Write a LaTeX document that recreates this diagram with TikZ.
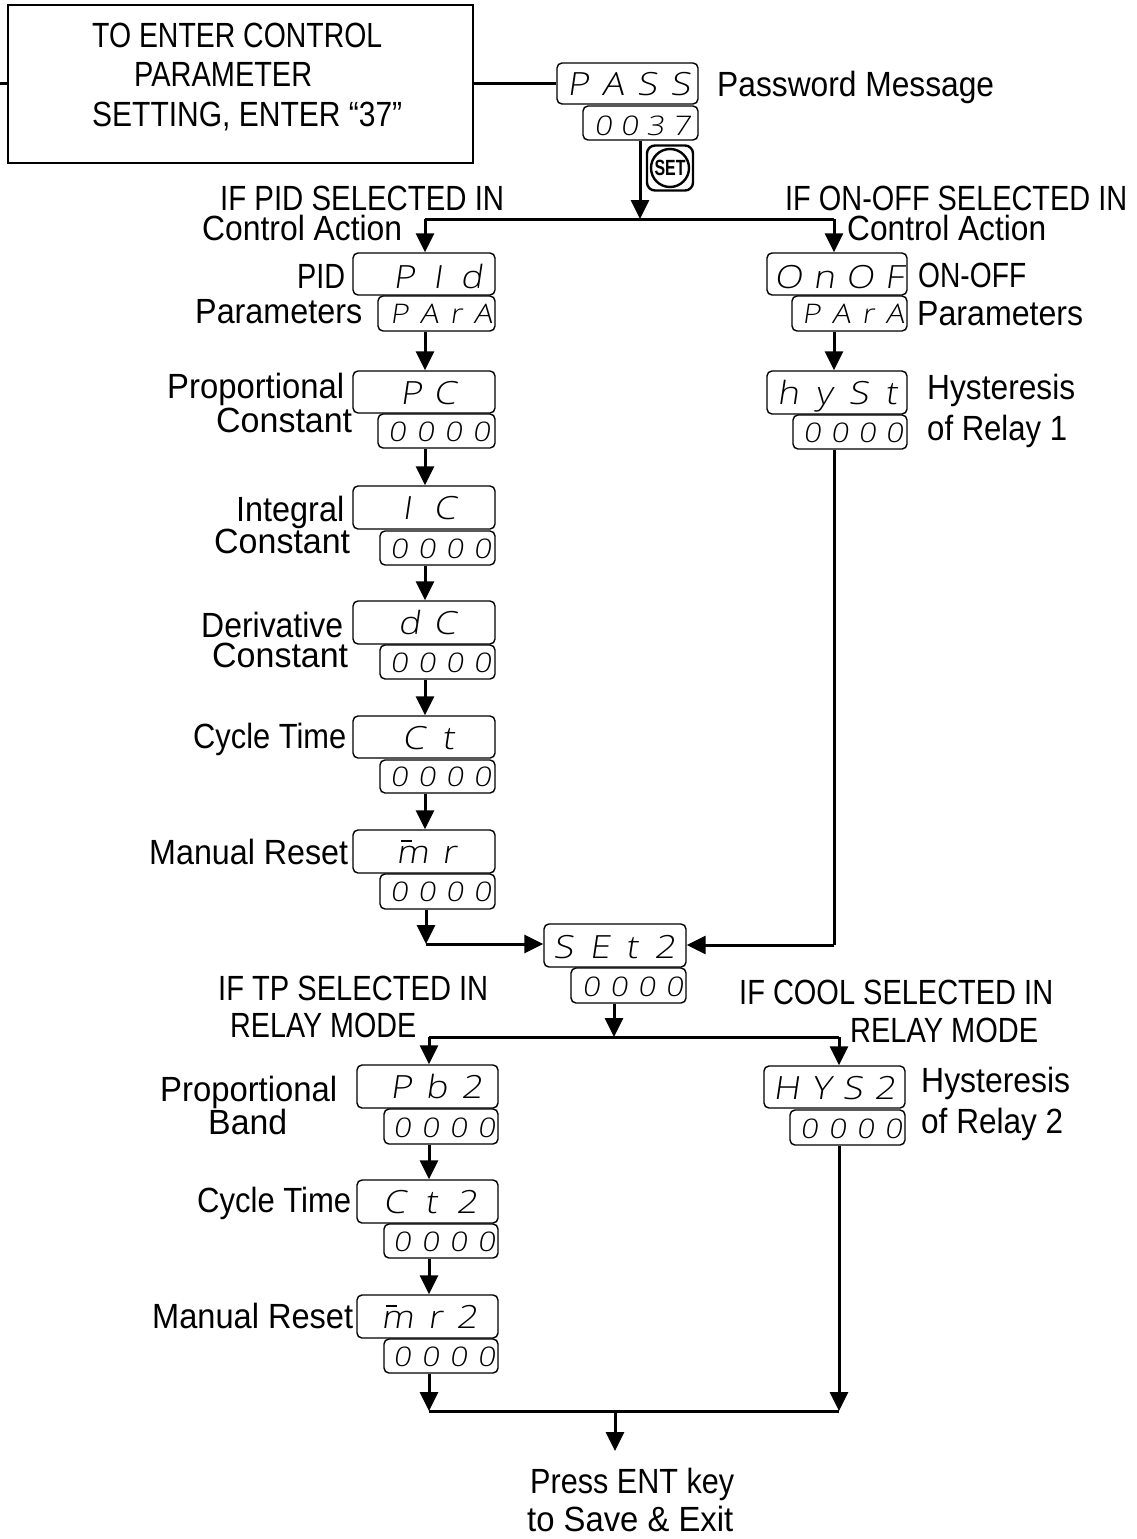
\documentclass[tikz,border=0pt]{standalone}
\usepackage{fontspec}
\setmainfont{Liberation Sans}
\newfontfamily\segf{Open Sans Light}[FakeSlant=0.15,FakeStretch=1.15]
\usetikzlibrary{arrows.meta}
\tikzset{
  x=1pt,y=-1pt,
  dispbox/.style={draw,line width=1.4pt,rounded corners=5pt,inner sep=0pt,fill=white},
  lbl/.style={inner sep=0pt,anchor=base west,font=\fontsize{35}{35}\selectfont},
  segtxt/.style={inner sep=0pt,anchor=base west},
  wire/.style={line width=3pt},
  arr/.style={line width=3pt,-{Triangle[length=19pt,width=18pt]}}
}
\def\segsize{32}
% name, x1, y1, x2, y2, glyph left, glyph right, baseline, text
\newcommand\disp[9]{%
  \def\segsize{32}%
  \node[dispbox,minimum width=#4pt-#2pt,minimum height=#5pt-#3pt] (#1) at ({(#2+#4)/2},{(#3+#5)/2}) {};%
  \dtext{#1}{#6}{#7}{#8}{#9}}
\newcommand\dispv[9]{%
  \def\segsize{27}%
  \node[dispbox,minimum width=#4pt-#2pt,minimum height=#5pt-#3pt] (#1) at ({(#2+#4)/2},{(#3+#5)/2}) {};%
  \dtext{#1}{#6}{#7}{#8}{#9}}
\newcommand\dtext[5]{%
  \pgfmathsetlengthmacro\dw{#3pt-#2pt}%
  \node[segtxt] (#1t) at (#2,#4) {\hbox to \dw{\segf\fontsize{\segsize}{\segsize}\selectfont\spaceskip=0pt plus 1fil #5}};}
\newcommand\lbl[5]{%
  \pgfmathsetlengthmacro\lw{#3pt-#2pt}%
  \node[lbl] (#1) at (#2,#4) {\resizebox{\lw}{\height}{#5}};}
\newcommand\barm{\rlap{\kern5pt\raisebox{21pt}{\rule{11pt}{1.6pt}}}m}
\begin{document}
\begin{tikzpicture}
\useasboundingbox (0,0) rectangle (1136,1539);
\coordinate (colL) at (425,0);
\coordinate (colR) at (834,0);
\coordinate (colC) at (640,0);
\coordinate (colM) at (614,0);
\coordinate (colLt) at (429,0);
\coordinate (colRt) at (839,0);

% title box
\node[draw,line width=1.4pt,minimum width=465pt,minimum height=158pt,inner sep=0pt] (big) at (240.5,84) {};
\lbl{t1}{92}{382}{47}{TO ENTER CONTROL}
\lbl{t2}{134}{312}{86}{PARAMETER}
\lbl{t3}{92}{402}{126}{SETTING, ENTER “37”}

% displays
\disp{pass}{557}{63}{698}{104}{567}{690}{95}{P A S S}
\dispv{passv}{583}{106}{698}{140}{594}{690}{135}{0 0 3 7}

\disp{pid}{353}{253}{495}{295}{393}{482}{288}{P I d}
\dispv{pidv}{378}{296}{495}{331}{390}{492}{323}{P A r A}
\disp{pc}{353}{371}{495}{413}{400}{456}{404}{P C}
\dispv{pcv}{378}{414}{495}{448}{388}{490}{441}{0 0 0 0}
\disp{ic}{353}{486}{495}{529}{402}{456}{519}{I C}
\dispv{icv}{380}{531}{495}{565}{390}{491}{558}{0 0 0 0}
\disp{dc}{353}{601}{495}{644}{398}{456}{634}{d C}
\dispv{dcv}{380}{645}{495}{679}{390}{491}{672}{0 0 0 0}
\disp{ct}{353}{716}{495}{758}{402}{454}{749}{C t}
\dispv{ctv}{380}{760}{495}{793}{390}{491}{786}{0 0 0 0}
\disp{mr}{353}{830}{495}{873}{396}{456}{863}{\barm{} r}
\dispv{mrv}{380}{874}{495}{909}{390}{491}{901}{0 0 0 0}

\disp{onof}{767}{253}{907}{295}{774}{903}{288}{O n O F}
\dispv{onofv}{792}{296}{907}{331}{802}{904}{323}{P A r A}
\disp{hyst}{767}{371}{907}{414}{777}{897}{404}{h y S t}
\dispv{hystv}{793}{415}{907}{449}{803}{903}{442}{0 0 0 0}

\disp{settwo}{544}{924}{686}{967}{553}{675}{958}{S E t 2}
\dispv{settwov}{571}{968}{686}{1003}{582}{683}{996}{0 0 0 0}

\disp{pb}{357}{1065}{498}{1108}{390}{482}{1098}{P b 2}
\dispv{pbv}{384}{1109}{498}{1144}{393}{495}{1137}{0 0 0 0}
\disp{cttwo}{357}{1180}{498}{1223}{383}{477}{1213}{C t 2}
\dispv{cttwov}{384}{1224}{498}{1258}{393}{495}{1251}{0 0 0 0}
\disp{mrtwo}{357}{1295}{498}{1338}{381}{477}{1328}{\barm{} r 2}
\dispv{mrtwov}{384}{1339}{498}{1373}{393}{495}{1366}{0 0 0 0}

\disp{hystwo}{764}{1066}{905}{1108}{773}{895}{1099}{H Y S 2}
\dispv{hystwov}{790}{1110}{905}{1145}{800}{902}{1138}{0 0 0 0}

% SET key
\node[draw,line width=2.4pt,rounded corners=8pt,minimum width=46pt,minimum height=45pt,inner sep=0pt] (setkey) at (670,168) {};
\node[draw,line width=2.4pt,circle,minimum size=38pt,inner sep=0pt,font=\bfseries\fontsize{22}{22}\selectfont] (setcirc) at (670,168) {\resizebox{31pt}{\height}{SET}};

% labels
\lbl{l1}{717}{994}{96}{Password Message}
\lbl{l2}{220}{504}{210}{IF PID SELECTED IN}
\lbl{l3}{202}{402}{240}{Control Action}
\lbl{l4}{785}{1127}{210}{IF ON-OFF SELECTED IN}
\lbl{l5}{847}{1046}{240}{Control Action}
\lbl{l6}{297}{345}{288}{PID}
\lbl{l7}{195}{362}{323}{Parameters}
\lbl{l8}{918}{1026}{287}{ON-OFF}
\lbl{l9}{917}{1083}{325}{Parameters}
\lbl{l10}{167}{344}{398}{Proportional}
\lbl{l11}{216}{352}{432}{Constant}
\lbl{l12}{927}{1075}{399}{Hysteresis}
\lbl{l13}{927}{1067}{440}{of Relay 1}
\lbl{l14}{236}{344}{521}{Integral}
\lbl{l15}{214}{350}{553}{Constant}
\lbl{l16}{201}{343}{637}{Derivative}
\lbl{l17}{212}{348}{667}{Constant}
\lbl{l18}{193}{346}{748}{Cycle Time}
\lbl{l19}{149}{348}{864}{Manual Reset}
\lbl{l20}{218}{488}{1000}{IF TP SELECTED IN}
\lbl{l21}{230}{416}{1037}{RELAY MODE}
\lbl{l22}{739}{1053}{1004}{IF COOL SELECTED IN}
\lbl{l23}{850}{1038}{1042}{RELAY MODE}
\lbl{l24}{160}{337}{1101}{Proportional}
\lbl{l25}{208}{287}{1134}{Band}
\lbl{l26}{921}{1070}{1092}{Hysteresis}
\lbl{l27}{921}{1063}{1133}{of Relay 2}
\lbl{l28}{197}{351}{1212}{Cycle Time}
\lbl{l29}{152}{353}{1328}{Manual Reset}
\lbl{l30}{530}{734}{1493}{Press ENT key}
\lbl{l31}{527}{733}{1531}{to Save \& Exit}

% free ends and junctions
\coordinate (lead) at (0,83);
\coordinate (jA) at (640,219);
\coordinate (jAl) at (425,219);
\coordinate (jAr) at (834,219);
\coordinate (jBl) at (426,944);
\coordinate (jBr) at (834,945);
\coordinate (jC) at (614,1037);
\coordinate (jCl) at (429,1037);
\coordinate (jCr) at (839,1037);
\coordinate (jDl) at (429,1411);
\coordinate (jDr) at (839,1411);
\coordinate (jD) at (615,1411);
\coordinate (out) at (615,1451);

% connectors
\draw[wire] (lead) -- (big.west |- lead);
\draw[wire] (big.east |- pass.west) -- (pass.west);
\draw[arr] (passv.south -| colC) -- (jA);
\draw[wire] (jAl) -- (jAr);
\draw[arr] (jAl) -- (pid.north -| colL);
\draw[arr] (jAr) -- (onof.north -| colR);
\draw[arr] (pidv.south -| colL) -- (pc.north -| colL);
\draw[arr] (pcv.south -| colL) -- (ic.north -| colL);
\draw[arr] (icv.south -| colL) -- (dc.north -| colL);
\draw[arr] (dcv.south -| colL) -- (ct.north -| colL);
\draw[arr] (ctv.south -| colL) -- (mr.north -| colL);
\draw[arr] (mrv.south -| jBl) -- (jBl);
\draw[arr] (jBl) -- (settwo.west |- jBl);
\draw[arr] (onofv.south -| colR) -- (hyst.north -| colR);
\draw[wire] (hystv.south -| colR) -- (jBr);
\draw[arr] (jBr) -- (settwo.east |- jBr);
\draw[arr] (settwov.south -| colM) -- (jC);
\draw[wire] (jCl) -- (jCr);
\draw[arr] (jCl) -- (pb.north -| colLt);
\draw[arr] (jCr) -- (hystwo.north -| colRt);
\draw[arr] (pbv.south -| colLt) -- (cttwo.north -| colLt);
\draw[arr] (cttwov.south -| colLt) -- (mrtwo.north -| colLt);
\draw[arr] (mrtwov.south -| colLt) -- (jDl);
\draw[arr] (hystwov.south -| colRt) -- (jDr);
\draw[wire] (jDl) -- (jDr);
\draw[arr] (jD) -- (out);
\end{tikzpicture}
\end{document}
